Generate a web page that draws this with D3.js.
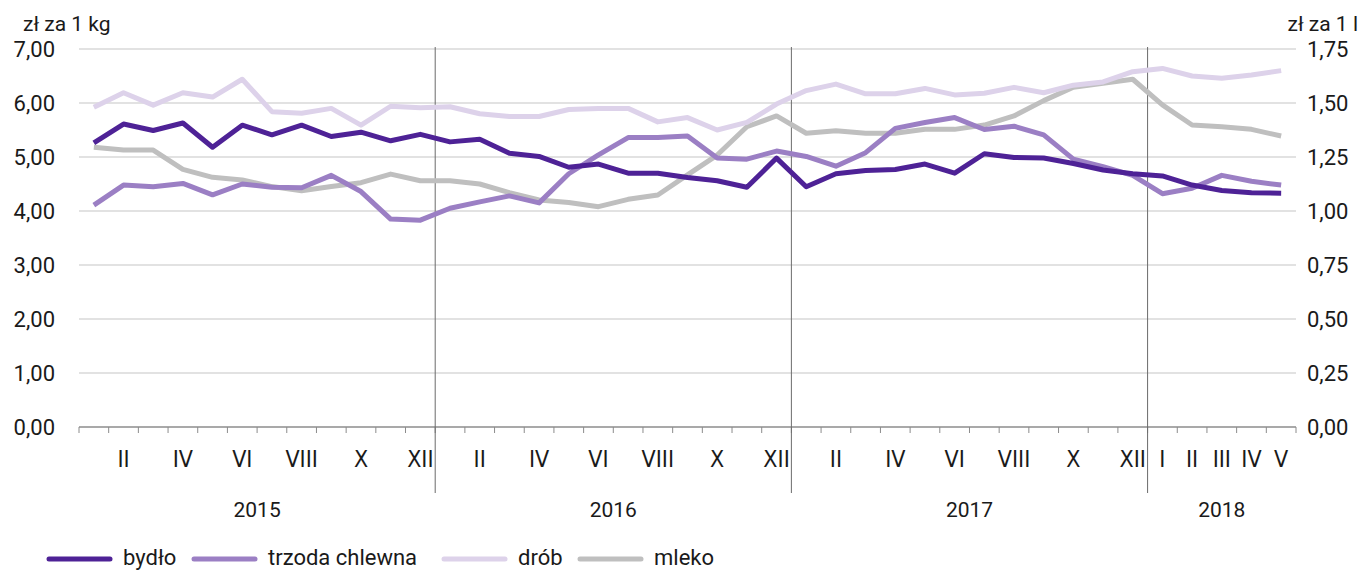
<!DOCTYPE html>
<html>
<head>
<meta charset="utf-8">
<script src="https://cdn.jsdelivr.net/npm/d3@7"></script>
<style>
  body { margin: 0; background: #fff; }
  svg text { fill: #1a1a1a; }
</style>
</head>
<body>
<svg width="1365" height="571"></svg>
<script>
// months 2015 I .. 2018 V
const monthLabels = [
  '', 'II', '', 'IV', '', 'VI', '', 'VIII', '', 'X', '', 'XII',
  '', 'II', '', 'IV', '', 'VI', '', 'VIII', '', 'X', '', 'XII',
  '', 'II', '', 'IV', '', 'VI', '', 'VIII', '', 'X', '', 'XII',
  'I', 'II', 'III', 'IV', 'V'
];
const years = ['2015', '2016', '2017', '2018'];
const monthsPerYear = [12, 12, 12, 5];

const bydlo = [
  5.26, 5.61, 5.49, 5.63, 5.18, 5.59, 5.41, 5.59, 5.38, 5.46, 5.30, 5.42,
  5.28, 5.33, 5.07, 5.01, 4.81, 4.87, 4.70, 4.70, 4.62, 4.56, 4.44, 4.98,
  4.45, 4.69, 4.75, 4.77, 4.87, 4.70, 5.06, 4.99, 4.98, 4.88, 4.76, 4.69,
  4.65, 4.48, 4.38, 4.34, 4.33
];
const trzoda = [
  4.11, 4.48, 4.45, 4.51, 4.30, 4.50, 4.44, 4.43, 4.66, 4.36, 3.85, 3.83,
  4.05, 4.17, 4.28, 4.15, 4.69, 5.04, 5.36, 5.36, 5.39, 4.98, 4.96, 5.11,
  5.01, 4.83, 5.08, 5.53, 5.64, 5.73, 5.51, 5.57, 5.41, 4.96, 4.82, 4.66,
  4.32, 4.42, 4.66, 4.55, 4.48
];
const drob = [
  5.92, 6.19, 5.96, 6.19, 6.11, 6.44, 5.84, 5.81, 5.90, 5.59, 5.94, 5.91,
  5.93, 5.80, 5.75, 5.75, 5.88, 5.90, 5.90, 5.65, 5.73, 5.50, 5.64, 5.98,
  6.23, 6.35, 6.17, 6.17, 6.27, 6.15, 6.18, 6.29, 6.19, 6.33, 6.39, 6.58,
  6.64, 6.50, 6.46, 6.52, 6.60
];
// mleko on right axis (zł za 1 l)
const mleko = [
  1.295, 1.282, 1.282, 1.193, 1.156, 1.144, 1.113, 1.094, 1.113, 1.131, 1.171, 1.140,
  1.140, 1.125, 1.085, 1.051, 1.039, 1.020, 1.054, 1.074, 1.167, 1.259, 1.390, 1.440,
  1.360, 1.372, 1.360, 1.360, 1.378, 1.378, 1.398, 1.440, 1.511, 1.573, 1.591, 1.610,
  1.491, 1.398, 1.390, 1.378, 1.347
];

const leftTicks = [0, 1, 2, 3, 4, 5, 6, 7];
const rightTicks = [0, 0.25, 0.5, 0.75, 1, 1.25, 1.5, 1.75];

const seriesList = [
  {name: 'bydło', values: bydlo, color: '#4e2296', axis: 'left'},
  {name: 'trzoda chlewna', values: trzoda, color: '#9b7fc4', axis: 'left'},
  {name: 'drób', values: drob, color: '#ddd2ea', axis: 'left'},
  {name: 'mleko', values: mleko, color: '#bfbfbf', axis: 'right'}
];

const FONT = 'Roboto, "Noto Sans", sans-serif';
const NARROW = '"Liberation Sans Narrow", "DejaVu Sans Condensed", Roboto, sans-serif';

const svg = d3.select('svg');
const margin = {left: 79, right: 1296, top: 49, bottom: 427};

const idx = d3.range(monthLabels.length);
const x = d3.scaleBand().domain(idx).range([margin.left, margin.right]).padding(0);
const yL = d3.scaleLinear().domain([0, 7]).range([margin.bottom, margin.top]);
const yR = d3.scaleLinear().domain([0, 1.75]).range([margin.bottom, margin.top]);

// gridlines
svg.append('g')
  .selectAll('line')
  .data(leftTicks.slice(1))
  .join('line')
  .attr('x1', margin.left).attr('x2', margin.right)
  .attr('y1', d => yL(d)).attr('y2', d => yL(d))
  .attr('stroke', '#d9d9d9').attr('stroke-width', 1.3);

// left axis labels
svg.append('g')
  .selectAll('text')
  .data(leftTicks)
  .join('text')
  .attr('x', 55).attr('y', d => yL(d))
  .attr('dy', '0.36em')
  .attr('text-anchor', 'end')
  .style('font', '22px ' + FONT)
  .text(d => d3.format('.2f')(d).replace('.', ','));

// right axis labels
svg.append('g')
  .selectAll('text')
  .data(rightTicks)
  .join('text')
  .attr('x', 1307).attr('y', d => yR(d))
  .attr('dy', '0.36em')
  .style('font', '22px ' + FONT)
  .text(d => d3.format('.2f')(d).replace('.', ','));

svg.append('text').attr('x', 23).attr('y', 31)
  .style('font', '21px ' + FONT).text('zł za 1 kg');
svg.append('text').attr('x', 1358).attr('y', 31).attr('text-anchor', 'end')
  .style('font', '21px ' + FONT).text('zł za 1 l');

// x axis line
svg.append('line')
  .attr('x1', margin.left).attr('x2', margin.right)
  .attr('y1', margin.bottom).attr('y2', margin.bottom)
  .attr('stroke', '#8c8c8c').attr('stroke-width', 1.3);

// tick marks at band edges
svg.append('g')
  .selectAll('line')
  .data(idx.concat([idx.length]))
  .join('line')
  .attr('x1', d => d < idx.length ? x(d) : x(d - 1) + x.bandwidth())
  .attr('x2', d => d < idx.length ? x(d) : x(d - 1) + x.bandwidth())
  .attr('y1', margin.bottom).attr('y2', margin.bottom + 6)
  .attr('stroke', '#8c8c8c');

// month labels
svg.append('g')
  .selectAll('text')
  .data(idx)
  .join('text')
  .attr('x', d => x(d) + x.bandwidth() / 2)
  .attr('y', 467)
  .attr('text-anchor', 'middle')
  .style('font', '23px ' + NARROW)
  .text(d => monthLabels[d]);

// year separators + labels
let start = 0;
const yearInfo = years.map((yr, i) => {
  const info = {yr, start, end: start + monthsPerYear[i]};
  start += monthsPerYear[i];
  return info;
});
svg.append('g')
  .selectAll('line')
  .data(yearInfo.slice(1))
  .join('line')
  .attr('x1', d => x(d.start)).attr('x2', d => x(d.start))
  .attr('y1', margin.top - 2).attr('y2', 493)
  .attr('stroke', '#6b6b6b').attr('stroke-width', 1);
svg.append('g')
  .selectAll('text')
  .data(yearInfo)
  .join('text')
  .attr('x', d => (x(d.start) + x(d.end - 1) + x.bandwidth()) / 2)
  .attr('y', 517)
  .attr('text-anchor', 'middle')
  .style('font', '21px ' + FONT)
  .text(d => d.yr);

// lines
svg.append('g')
  .selectAll('path')
  .data(seriesList.slice().reverse())
  .join('path')
  .attr('fill', 'none')
  .attr('stroke', d => d.color)
  .attr('stroke-width', 5)
  .attr('stroke-linejoin', 'round')
  .attr('d', s => {
    const ys = s.axis === 'left' ? yL : yR;
    return d3.line()
      .x((v, i) => x(i) + x.bandwidth() / 2)
      .y(v => ys(v))(s.values);
  });

// legend
const legendX = [47, 192, 442, 578];
const lg = svg.append('g')
  .selectAll('g')
  .data(seriesList)
  .join('g')
  .attr('transform', (d, i) => `translate(${legendX[i]},559)`);
lg.append('line')
  .attr('x1', 2).attr('x2', 63)
  .attr('stroke', d => d.color).attr('stroke-width', 5)
  .attr('stroke-linecap', 'round');
lg.append('text')
  .attr('x', 76).attr('y', 6)
  .style('font', '22px ' + FONT)
  .text(d => d.name);
</script>
</body>
</html>
